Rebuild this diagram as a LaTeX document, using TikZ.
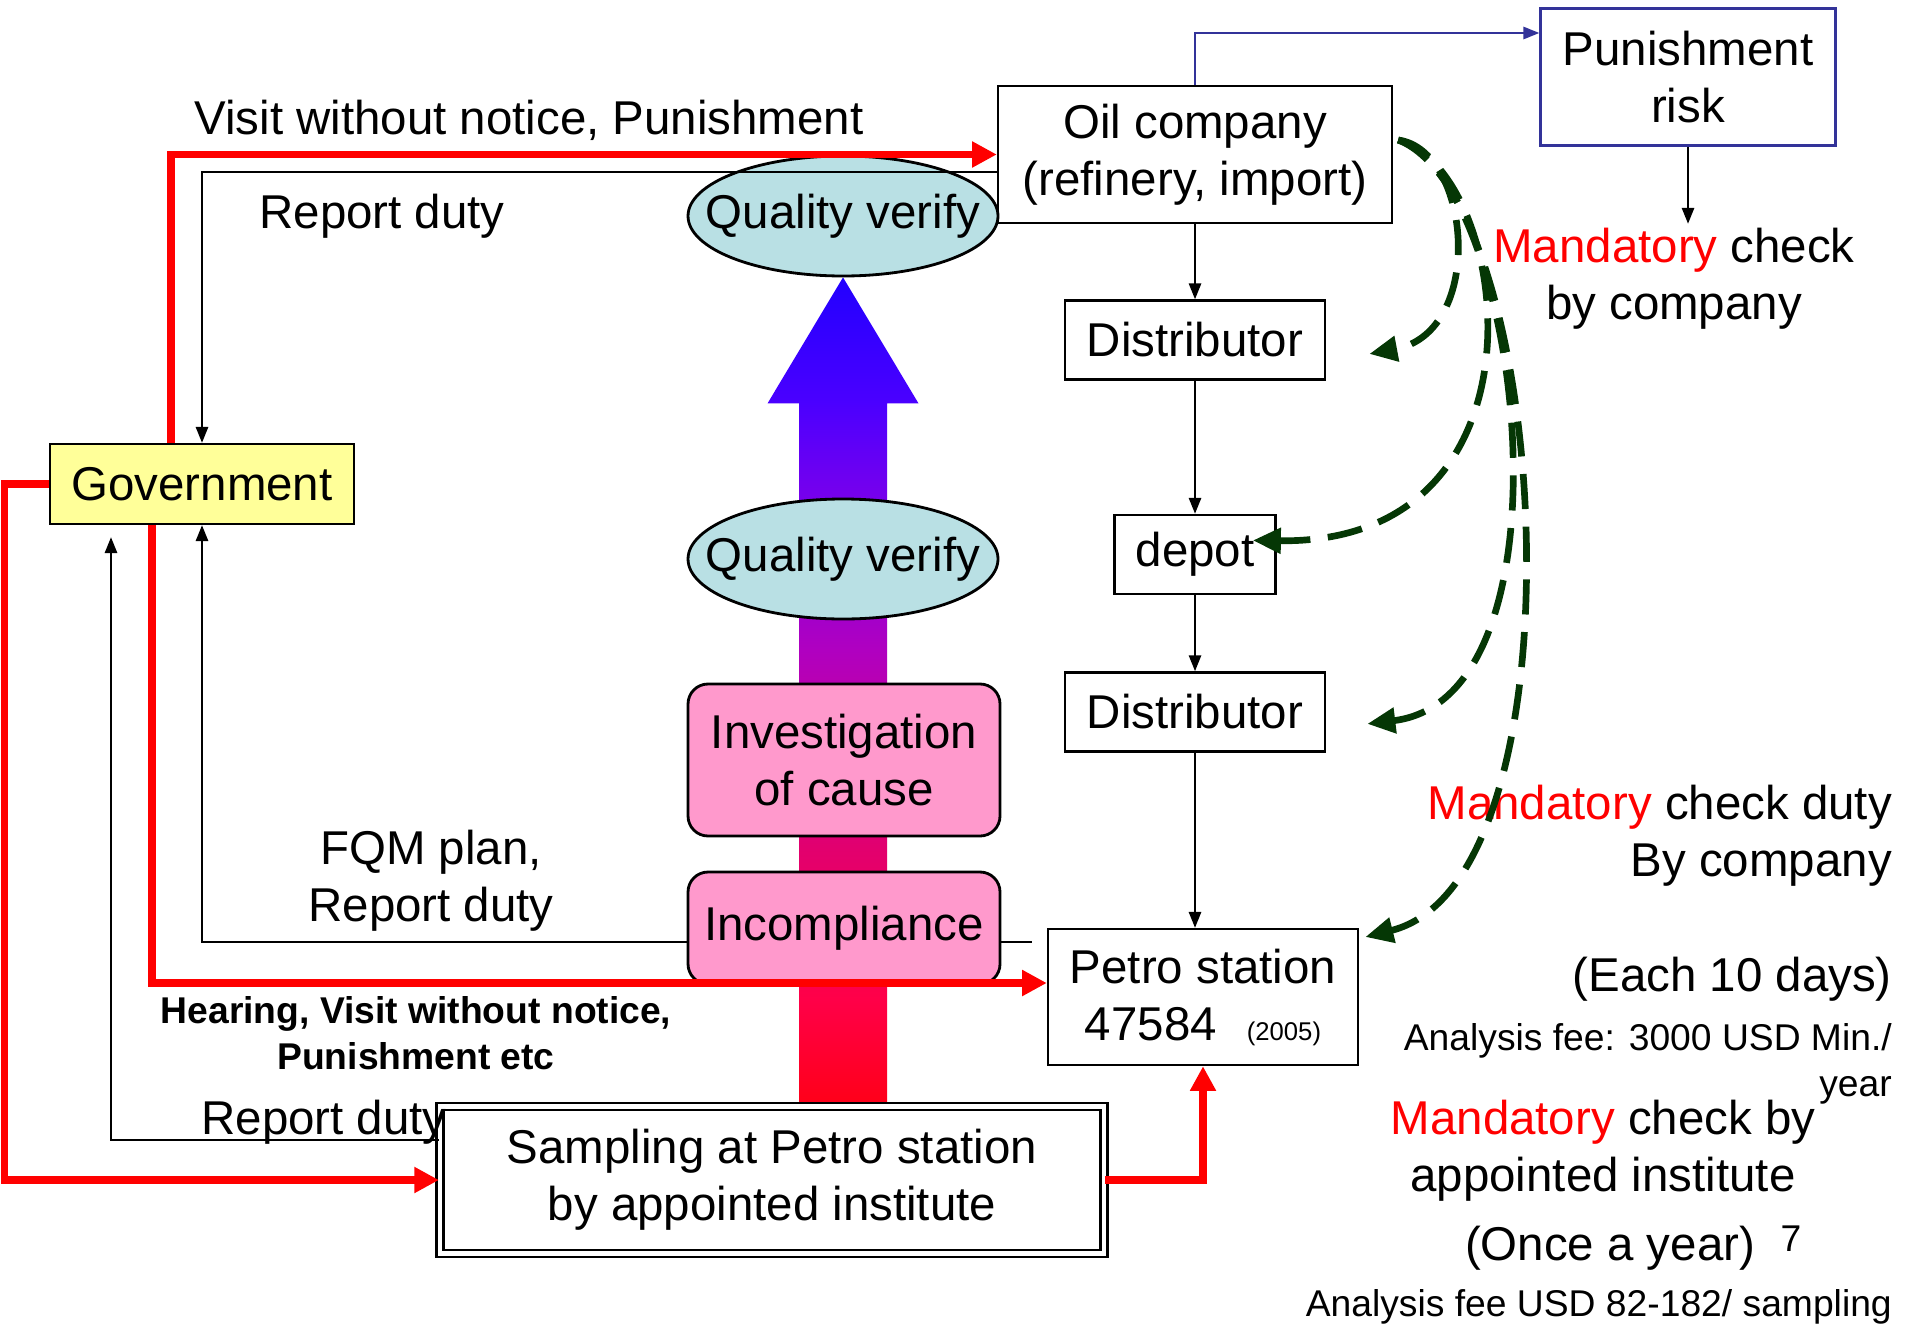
\documentclass[tikz,border=0pt]{standalone}
\usepackage{fontspec}
\setmainfont{Liberation Sans}
\usetikzlibrary{arrows.meta,positioning,calc,backgrounds,shapes.geometric}

\definecolor{qvfill}{RGB}{185,224,228}
\definecolor{pinkfill}{RGB}{255,153,204}
\definecolor{govfill}{RGB}{255,255,153}
\definecolor{checkgreen}{RGB}{5,55,5}
\definecolor{riskblue}{RGB}{51,51,153}

% blue -> purple -> red, path box runs from 25bp to 75bp
\pgfdeclareverticalshading{shaftshade}{100bp}{%
  rgb(0bp)=(1,0,0.094);
  rgb(25bp)=(1,0,0.094);
  rgb(31.4bp)=(1,0,0.282);
  rgb(40.5bp)=(0.886,0,0.431);
  rgb(52.5bp)=(0.690,0,0.753);
  rgb(62.7bp)=(0.439,0,0.941);
  rgb(67.5bp)=(0.290,0,1);
  rgb(75bp)=(0.133,0,1);
  rgb(100bp)=(0.133,0,1)}

\newcommand{\diagfont}{\fontsize{13.5}{16.2}\selectfont}
\newcommand{\notefont}{\fontsize{10.6}{13.2}\selectfont}

\begin{document}
\begin{tikzpicture}[
    %–––– GLOBAL STYLE TWEAKS ––––
    font=\diagfont,
    block/.style   = {rectangle, draw=black, line width=0.7pt, fill=white,
                      align=center, inner sep=2pt},
    ovalbox/.style = {ellipse, draw=black, line width=0.8pt, fill=qvfill,
                      minimum width=3.10cm, minimum height=1.20cm, inner sep=0pt},
    causebox/.style= {rectangle, rounded corners=0.2cm, draw=black, line width=0.8pt,
                      fill=pinkfill, align=center, minimum width=3.12cm},
    note/.style    = {align=center, inner sep=1pt, yshift=-0.04cm},
    arrow/.style   = {-{Triangle[length=4.5pt,width=3.5pt]}, line width=0.5pt},
    redarrow/.style= {-{Triangle[length=7pt,width=7pt]}, red, line width=2.1pt},
    checkarrow/.style = {-{Triangle[length=8pt,width=7pt]}, checkgreen,
                      line width=1.9pt, dash pattern=on 10pt off 5pt},
]
\useasboundingbox (0,0) rectangle (19.09,-13.28);

%–––– SUPPLY CHAIN ––––
\node (oil_company) [block, minimum width=3.94cm, minimum height=1.37cm] at (11.95,-1.545) {Oil company\\(refinery, import)};

\node (dist_a)      [block, minimum width=2.60cm, minimum height=0.79cm, below=0.75cm of oil_company] {Distributor};

\node (depot)       [block, minimum width=1.61cm, minimum height=0.79cm, below=1.33cm of dist_a]      {depot};

\node (dist_b)      [block, minimum width=2.60cm, minimum height=0.79cm, below=0.76cm of depot]       {Distributor};

\node (petro)       [block, minimum width=3.10cm, minimum height=1.36cm] at (12.03,-9.97) {Petro station\\47584\hspace{0.3cm}{\fontsize{7.3}{9}\selectfont(2005)}};

\node (punish_risk) [block, draw=riskblue, minimum width=2.95cm, minimum height=1.37cm] at (16.88,-0.77) {Punishment\\risk};

%–––– GOVERNMENT SIDE ––––
\node (gov)         [block, fill=govfill, minimum width=3.04cm, minimum height=0.80cm] at (2.02,-4.84) {Government};

\node (sampling)    [block, double, double distance=1.4pt, line width=0.6pt,
                     minimum width=6.64cm, minimum height=1.47cm] at (7.72,-11.80) {Sampling at Petro station\\by appointed institute};

%–––– CENTRE COLUMN ––––
\node (qv_top)      [ovalbox]  at (8.43,-2.16) {\makebox[0pt]{Quality verify}};
\node (qv_mid)      [ovalbox]  at (8.43,-5.59) {\makebox[0pt]{Quality verify}};
\node (invest)      [causebox, minimum height=1.52cm] at (8.44,-7.60) {Investigation\\of cause};
\node (incomp)      [causebox, minimum height=1.12cm] at (8.44,-9.28) {Incompliance};

%–––– LABELS ––––
\node (visit_lbl)   [note] at (5.29,-1.16)  {Visit without notice, Punishment};
\node (report_top)  [note] at (3.82,-2.12)  {Report duty};
\node (fqm_lbl)     [note] at (4.31,-8.77)  {FQM plan,\\Report duty};
\node (hearing_lbl) [note, font=\notefont\bfseries] at (4.16,-10.29) {Hearing, Visit without notice,\\Punishment etc};
\node (report_bot)  [note] at (3.24,-11.18) {Report duty};

\node (mand_company)[note] at (16.74,-2.745) {\textcolor{red}{Mandatory} check\\by company};
\node (mand_duty)   [note, align=right, anchor=east] at (18.96,-8.315) {\textcolor{red}{Mandatory} check duty\\By company};
\node (each_lbl)    [note, anchor=east] at (18.96,-9.75) {(Each 10 days)};
\node (fee_a)       [note, align=right, anchor=east, font=\notefont] at (18.96,-10.60) {Analysis fee: 3000 USD Min./\\year};
\node (mand_inst)   [note] at (16.03,-11.47) {\textcolor{red}{Mandatory} check by\\appointed institute};
\node (once_lbl)    [note] at (16.10,-12.44) {(Once a year)};
\node (page_no)     [note, font=\notefont] at (17.91,-12.35) {7};
\node (fee_b)       [note, anchor=east, font=\notefont] at (18.96,-13.03) {Analysis fee USD 82-182/ sampling};

%–––– BIG ARROW + HIDDEN LINE ––––
\begin{scope}[on background layer]
  \coordinate (tip)  at (qv_top.south);
  \coordinate (foot) at (qv_top.south |- sampling.north);
  \shade[shading=shaftshade]
    ($(foot)+(-0.44,0)$) -- ($(tip)+(-0.44,-1.26)$) -- ($(tip)+(-0.755,-1.26)$) -- (tip)
    -- ($(tip)+(0.755,-1.26)$) -- ($(tip)+(0.44,-1.26)$) -- ($(foot)+(0.44,0)$) -- cycle;
  \draw[arrow] ([xshift=-0.15cm,yshift=0.55cm]petro.west) -| (gov.south);
\end{scope}

%–––– ARROWS ––––
\foreach \a/\b in {oil_company/dist_a, dist_a/depot, depot/dist_b}
  \draw[arrow] (\a) -- (\b);
\draw[arrow] (dist_b) -- (dist_b |- petro.north);

\draw[redarrow] ([xshift=-0.31cm]gov.north) |- (oil_company.west);
\draw[redarrow] ([xshift=-0.50cm]gov.south) |- ([yshift=0.14cm]petro.west);
\draw[redarrow] (gov.west) -- ++(-0.44,0) |- (sampling.west);
\draw[redarrow] (sampling.east) -| (petro.south);

\draw[arrow] ([yshift=-0.175cm]oil_company.west) -| (gov.north);
\draw[arrow] ([yshift=0.40cm]sampling.west) -| ([xshift=-0.91cm,yshift=-0.12cm]gov.south);
\draw[arrow, riskblue] (oil_company.north) |- ([yshift=0.44cm]punish_risk.west);
\draw[arrow] (punish_risk.south) -- (punish_risk.south |- mand_company.north);

%–––– COMPANY CHECKS (dashed) ––––
\coordinate (chk_start) at ([xshift=0.05cm,yshift=0.145cm]oil_company.east);
\draw[checkarrow] (chk_start) .. controls +(0.73,-0.10) and +(1.17,0.22)  .. ([xshift=0.43cm,yshift=-0.14cm]dist_a.east);
\draw[checkarrow] (chk_start) .. controls +(1.13,-0.30) and +(3.08,-0.04) .. ([xshift=-0.24cm,yshift=0.14cm]depot.east);
\draw[checkarrow] (chk_start) .. controls +(1.23,-0.40) and +(2.14,0.26)  .. ([xshift=0.41cm,yshift=-0.12cm]dist_b.east);
\draw[checkarrow] (chk_start) .. controls +(1.53,-0.60) and +(2.24,0.56)  .. ([xshift=0.06cm,yshift=0.60cm]petro.east);
\end{tikzpicture}
\end{document}
